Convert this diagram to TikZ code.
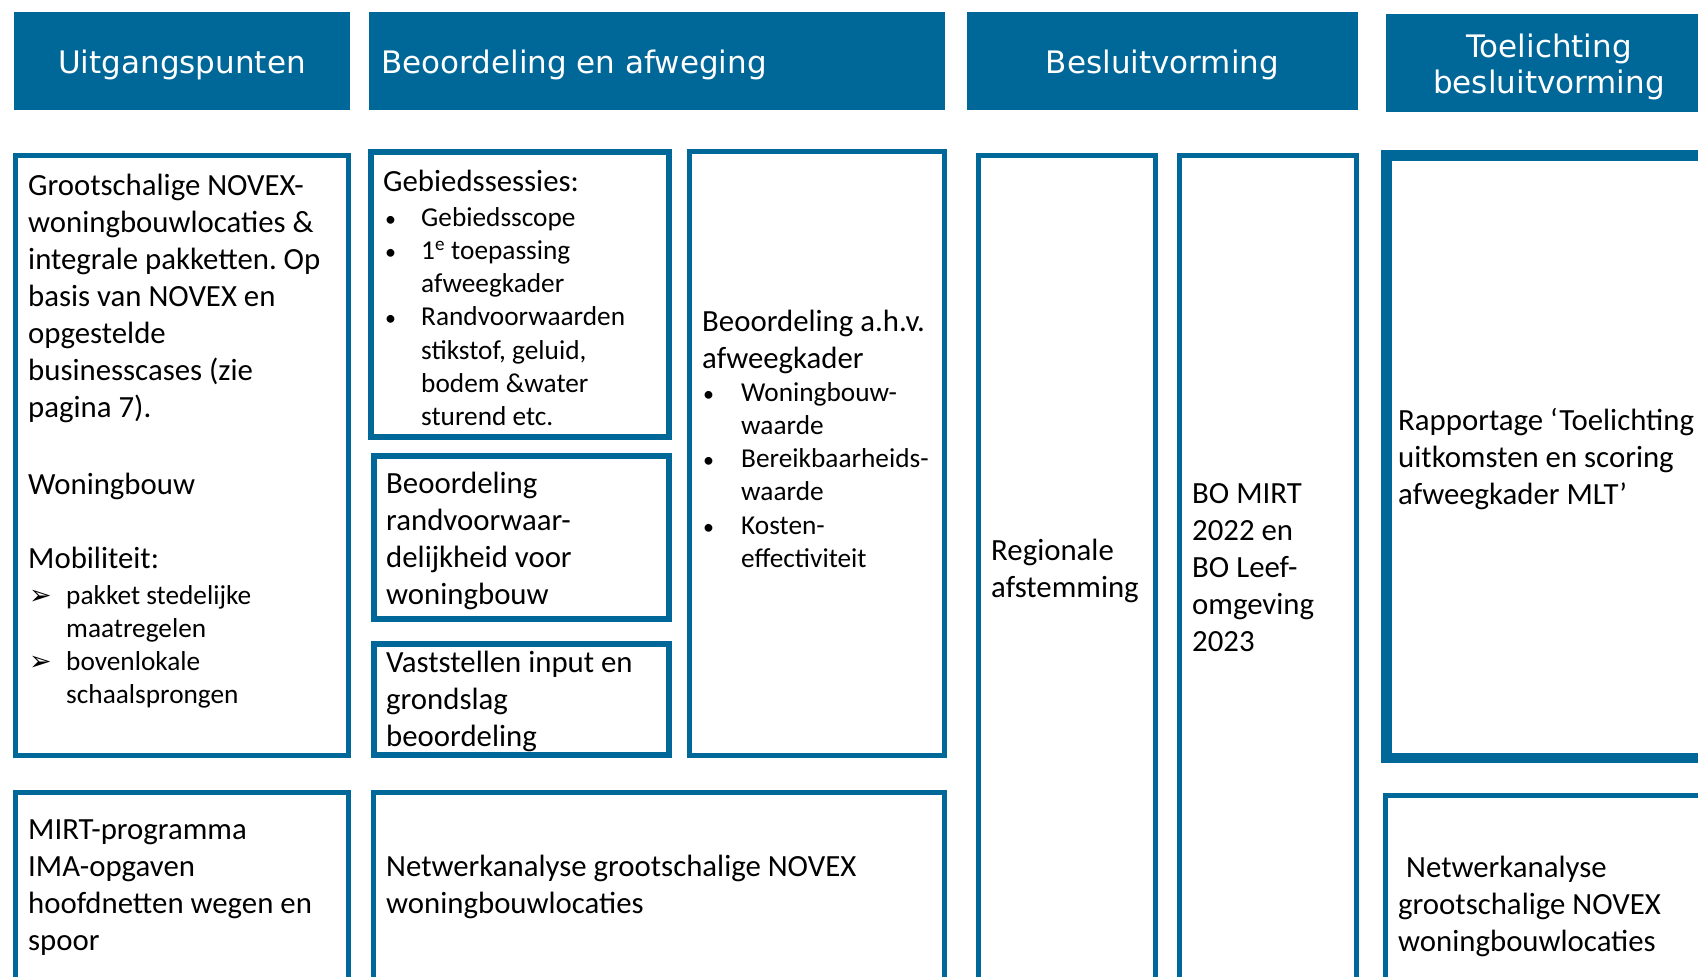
\documentclass[tikz,border=0pt]{standalone}
\usepackage{fontspec}
\setmainfont{Carlito}
\newfontfamily\hdrfont{DejaVu Sans}
\newfontfamily\symfont{DejaVu Sans}
\frenchspacing
\definecolor{novexblue}{RGB}{0,103,153}
\tikzset{
  hdr/.style={fill=novexblue},
  hdrtxt/.style={font=\hdrfont\fontsize{31}{36}\selectfont, text=white, inner sep=0pt, align=center},
  frame/.style={draw=novexblue, line width=5pt},
  body/.style={font=\fontsize{30.8}{37}\selectfont, align=left, inner sep=0pt, anchor=north west, yshift=25.9pt},
  lst/.style={font=\fontsize{27.3}{33.2}\selectfont, align=left, inner sep=0pt, anchor=north west, yshift=23.24pt}
}
\newcommand{\bul}[1]{\makebox[#1][l]{\fontsize{22}{22}\selectfont •}}
\newcommand{\arr}{\makebox[37pt][l]{\symfont\fontsize{27}{27}\selectfont ➢}}
\begin{document}
\begin{tikzpicture}[x=1pt, y=-1pt]
\useasboundingbox (0,0) rectangle (1698,977);
\clip (0,0) rectangle (1698,977);
% column headers
\fill[hdr] (14,12) rectangle (350,110);
\fill[hdr] (369,12) rectangle (945,110);
\fill[hdr] (967,12) rectangle (1358,110);
\fill[hdr] (1386,14) rectangle (1712,112);
\node[hdrtxt, anchor=base] (tUit) at (182,73) {Uitgangspunten};
\node[hdrtxt, anchor=base west] (tBeo) at (381,73) {Beoordeling en afweging};
\node[hdrtxt, anchor=base] (tBes) at (1162.5,73) {Besluitvorming};
\node[hdrtxt, anchor=north, yshift=25.2pt] (tToe) at (1549,57) {\strut Toelichting\\besluitvorming};
% frames
\draw[frame] (15.5,155.5) rectangle (348.5,755.5);
\draw[frame, line width=6pt] (371,152) rectangle (669,437);
\draw[frame, line width=6pt] (374,456) rectangle (669,619);
\draw[frame, line width=6pt] (374,644) rectangle (669,755);
\draw[frame] (689.5,151.5) rectangle (944.5,755.5);
\draw[frame] (978.5,155.5) rectangle (1155.5,992.5);
\draw[frame] (1179.5,155.5) rectangle (1356.5,992.5);
\draw[frame, line width=10.5pt] (1386.25,155.25) rectangle (1725,757.75);
\draw[frame] (15.5,792.5) rectangle (348.5,992.5);
\draw[frame] (373.5,792.5) rectangle (944.5,992.5);
\draw[frame] (1385.5,795.5) rectangle (1725,1027);
% Uitgangspunten
\node[body] (tA) at (28,195) {\strut Grootschalige NOVEX-\\woningbouwlocaties \&\\integrale pakketten. Op\\basis van NOVEX en\\opgestelde\\businesscases (zie\\pagina 7).};
\node[body] (tAw) at (28,494) {\strut Woningbouw};
\node[body] (tAm) at (28,568) {\strut Mobiliteit:};
\node[lst] (tAl) at (29,604) {\strut\arr pakket stedelijke\\\hspace*{37pt}maatregelen\\\arr bovenlokale\\\hspace*{37pt}schaalsprongen};
\node[body] (tMIRT) at (28,839) {\strut MIRT-programma\\IMA-opgaven\\hoofdnetten wegen en\\spoor};
% Beoordeling en afweging
\node[body] (tG) at (383,191) {\strut Gebiedssessies:};
\node[lst] (tGl) at (385,226) {\strut\bul{36pt}Gebiedsscope\\\bul{36pt}1\textsuperscript{e} toepassing\\\hspace*{36pt}afweegkader\\\bul{36pt}Randvoorwaarden\\\hspace*{36pt}stikstof, geluid,\\\hspace*{36pt}bodem \&water\\\hspace*{36pt}sturend etc.};
\node[body] (tR) at (386,493) {\strut Beoordeling\\randvoorwaar-\\delijkheid voor\\woningbouw};
\node[body] (tV) at (386,672) {\strut Vaststellen input en\\grondslag\\beoordeling};
\node[body] (tW) at (702,331) {\strut Beoordeling a.h.v.\\afweegkader};
\node[lst] (tWl) at (703,401) {\strut\bul{38pt}Woningbouw-\\\hspace*{38pt}waarde\\\bul{38pt}Bereikbaarheids-\\\hspace*{38pt}waarde\\\bul{38pt}Kosten-\\\hspace*{38pt}effectiviteit};
\node[body] (tNet) at (386,876) {\strut Netwerkanalyse grootschalige NOVEX\\woningbouwlocaties};
% Besluitvorming
\node[body] (tReg) at (991,560) {\strut Regionale\\afstemming};
\node[body] (tBO) at (1192,503) {\strut BO MIRT\\2022 en\\BO Leef-\\omgeving\\2023};
% Toelichting
\node[body] (tRap) at (1398,430) {\strut Rapportage ‘Toelichting\\uitkomsten en scoring\\afweegkader MLT’};
\node[body] (tNetR) at (1398,877) {\strut\hspace*{8pt}Netwerkanalyse\\grootschalige NOVEX\\woningbouwlocaties};
\end{tikzpicture}
\end{document}
